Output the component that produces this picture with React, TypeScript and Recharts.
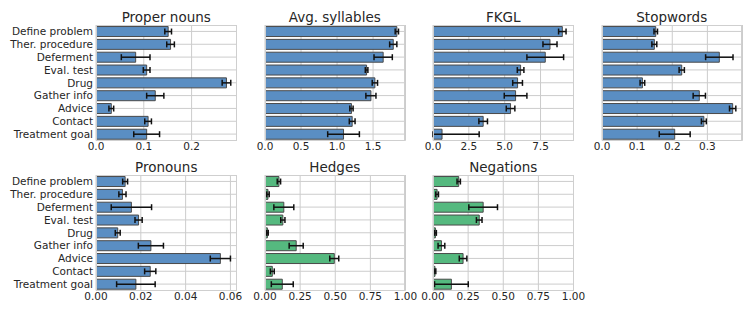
import React from "react";
import { Bar, BarChart, CartesianGrid, ErrorBar, XAxis, YAxis } from "recharts";

const CATEGORIES = [
  "Define problem",
  "Ther. procedure",
  "Deferment",
  "Eval. test",
  "Drug",
  "Gather info",
  "Advice",
  "Contact",
  "Treatment goal",
];

const PROPER_NOUNS = [0.151, 0.156, 0.083, 0.106, 0.273, 0.124, 0.032, 0.109, 0.106];
const PROPER_NOUNS_ERR = [0.007, 0.008, 0.03, 0.007, 0.009, 0.018, 0.005, 0.007, 0.027];
const SYLLABLES = [1.83, 1.78, 1.64, 1.41, 1.525, 1.47, 1.2, 1.21, 1.09];
const SYLLABLES_ERR = [0.023, 0.05, 0.127, 0.018, 0.037, 0.07, 0.023, 0.04, 0.22];
const FKGL = [9.02, 8.16, 7.83, 6.11, 5.9, 5.76, 5.41, 3.5, 0.63];
const FKGL_ERR = [0.26, 0.49, 1.28, 0.23, 0.34, 0.79, 0.3, 0.3, 2.59];
const STOPWORDS = [0.153, 0.149, 0.334, 0.227, 0.115, 0.277, 0.372, 0.29, 0.207];
const STOPWORDS_ERR = [0.005, 0.007, 0.039, 0.0075, 0.0066, 0.0175, 0.009, 0.007, 0.044];
const PRONOUNS = [0.013, 0.0118, 0.0158, 0.019, 0.0097, 0.0245, 0.0555, 0.0242, 0.0178];
const PRONOUNS_ERR = [0.0011, 0.0016, 0.009, 0.0016, 0.0011, 0.0056, 0.0045, 0.0025, 0.0086];
const HEDGES = [0.099, 0.021, 0.134, 0.127, 0.017, 0.222, 0.493, 0.052, 0.123];
const HEDGES_ERR = [0.012, 0.009, 0.071, 0.015, 0.006, 0.05, 0.032, 0.014, 0.078];
const NEGATIONS = [0.183, 0.029, 0.357, 0.329, 0.017, 0.06, 0.214, 0.014, 0.131];
const NEGATIONS_ERR = [0.012, 0.01, 0.102, 0.02, 0.007, 0.024, 0.027, 0.006, 0.12];

const TICKS_PROPER = [0, 0.1, 0.2];
const TICKS_SYLL = [0, 0.5, 1, 1.5];
const TICKS_FKGL = [0, 2.5, 5, 7.5];
const TICKS_STOP = [0, 0.1, 0.2, 0.3];
const TICKS_PRON = [0, 0.02, 0.04, 0.06];
const TICKS_UNIT = [0, 0.25, 0.5, 0.75, 1];

const BLUE = "#5a8ec3";
const GREEN = "#55b97f";
const TEXT = "#262626";
const FONT = "DejaVu Sans";

const PLOT_W = 140.5;
const PLOT_H = 115.5;
const LABEL_W = 96;
const SIDE = 18;

// plain tick so long category names stay on one line
function CategoryTick({ x, y, payload }: any) {
  return (
    <text x={x} y={y} dy="0.36em" textAnchor="end" fontSize={10.5} fill={TEXT} fontFamily={FONT}>
      {payload.value}
    </text>
  );
}

type PanelProps = {
  title: string;
  values: number[];
  errors: number[];
  domain: [number, number];
  ticks: number[];
  decimals: number;
  color: string;
  left: number;
  top: number;
  showLabels?: boolean;
};

function Panel({ title, values, errors, domain, ticks, decimals, color, left, top, showLabels }: PanelProps) {
  // error bars stop at the axis, like the clipped ones in the source figure
  const data = CATEGORIES.map((name, i) => ({
    name,
    value: values[i],
    err: [Math.min(errors[i], values[i]), errors[i]],
  }));
  const yW = showLabels ? LABEL_W : 0;
  const mLeft = showLabels ? 0 : SIDE;
  const width = mLeft + yW + PLOT_W + SIDE;

  return (
    <>
      <div
        style={{
          position: "absolute",
          left,
          top: top - 15.5,
          width: PLOT_W,
          textAlign: "center",
          fontSize: 13.5,
          lineHeight: "15px",
          color: TEXT,
        }}
      >
        {title}
      </div>
      <div style={{ position: "absolute", left: left - yW - mLeft, top }}>
        <BarChart
          width={width}
          height={PLOT_H + 20}
          data={data}
          layout="vertical"
          margin={{ top: 0, right: SIDE, bottom: 0, left: mLeft }}
          barCategoryGap="12%"
        >
          <CartesianGrid
            horizontal={{ stroke: "#dadada", strokeWidth: 2 }}
            vertical={{ stroke: "#efefef", strokeWidth: 1 }}
            strokeDasharray=""
          />
          <XAxis
            type="number"
            domain={domain}
            ticks={ticks}
            interval={0}
            allowDataOverflow
            axisLine={false}
            tickLine={false}
            tickSize={0}
            tickMargin={2}
            height={20}
            tick={{ fontSize: 10.5, fill: TEXT, fontFamily: FONT }}
            tickFormatter={(v: number) => v.toFixed(decimals)}
          />
          <YAxis
            type="category"
            dataKey="name"
            width={yW}
            hide={!showLabels}
            axisLine={false}
            tickLine={false}
            tickSize={0}
            tickMargin={3}
            interval={0}
            tick={<CategoryTick />}
          />
          <Bar dataKey="value" fill={color} stroke="#4a4a4a" strokeWidth={1} isAnimationActive={false}>
            <ErrorBar dataKey="err" direction="x" width={3} stroke="#111" strokeWidth={1.5} isAnimationActive={false} />
          </Bar>
        </BarChart>
      </div>
      <div
        style={{
          position: "absolute",
          left,
          top,
          width: PLOT_W,
          height: PLOT_H,
          border: "1px solid #cfcfcf",
          boxSizing: "border-box",
          pointerEvents: "none",
        }}
      />
    </>
  );
}

export default function App() {
  return (
    <div
      style={{
        position: "absolute",
        left: 0,
        top: 0,
        width: 753,
        height: 315,
        background: "#fff",
        fontFamily: FONT,
      }}
    >
      <Panel title="Proper nouns" values={PROPER_NOUNS} errors={PROPER_NOUNS_ERR} domain={[0, 0.294]} ticks={TICKS_PROPER} decimals={1} color={BLUE} left={96} top={25} showLabels />
      <Panel title="Avg. syllables" values={SYLLABLES} errors={SYLLABLES_ERR} domain={[0, 1.95]} ticks={TICKS_SYLL} decimals={1} color={BLUE} left={264.5} top={25} />
      <Panel title="FKGL" values={FKGL} errors={FKGL_ERR} domain={[0, 9.8]} ticks={TICKS_FKGL} decimals={1} color={BLUE} left={433} top={25} />
      <Panel title="Stopwords" values={STOPWORDS} errors={STOPWORDS_ERR} domain={[0, 0.4]} ticks={TICKS_STOP} decimals={1} color={BLUE} left={601.5} top={25} />
      <Panel title="Pronouns" values={PRONOUNS} errors={PRONOUNS_ERR} domain={[0, 0.0627]} ticks={TICKS_PRON} decimals={2} color={BLUE} left={96} top={175} showLabels />
      <Panel title="Hedges" values={HEDGES} errors={HEDGES_ERR} domain={[0, 1]} ticks={TICKS_UNIT} decimals={2} color={GREEN} left={264.5} top={175} />
      <Panel title="Negations" values={NEGATIONS} errors={NEGATIONS_ERR} domain={[0, 1]} ticks={TICKS_UNIT} decimals={2} color={GREEN} left={433} top={175} />
    </div>
  );
}
